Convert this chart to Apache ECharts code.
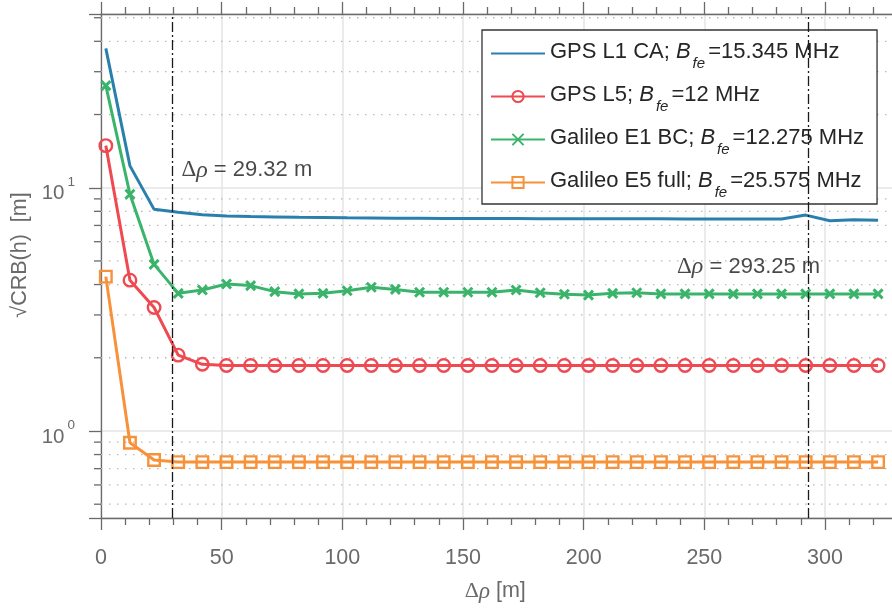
<!DOCTYPE html>
<html>
<head>
<meta charset="utf-8">
<script src="https://cdn.jsdelivr.net/npm/echarts@6/dist/echarts.min.js"></script>
<style>html,body{margin:0;padding:0;background:#fff;}#chart{width:892px;height:608px;}</style>
</head>
<body>
<div id="chart"></div>
<script>
// ---- data ----
const xValues = [2, 12, 22, 32, 42, 52, 62, 72, 82, 92, 102, 112, 122, 132, 142, 152, 162,
  172, 182, 192, 202, 212, 222, 232, 242, 252, 262, 272, 282, 292, 302, 312, 322];
const seriesNames = ['GPS L1 CA', 'GPS L5', 'Galileo E1 BC', 'Galileo E5 full'];
const bandwidths = ['15.345', '12', '12.275', '25.575'];
const gpsL1 = [37.4, 12.3, 8.15, 7.93, 7.75, 7.66, 7.62, 7.59, 7.56, 7.54, 7.52, 7.51, 7.50, 7.49, 7.48, 7.48, 7.47,
  7.47, 7.46, 7.46, 7.46, 7.45, 7.45, 7.45, 7.44, 7.44, 7.44, 7.44, 7.44, 7.72, 7.32, 7.38, 7.35];
const gpsL5 = [14.9, 4.17, 3.22, 2.05, 1.88, 1.86, 1.86, 1.86, 1.86, 1.86, 1.86, 1.86, 1.86, 1.86, 1.86, 1.86, 1.86,
  1.86, 1.86, 1.86, 1.86, 1.86, 1.86, 1.86, 1.86, 1.86, 1.86, 1.86, 1.86, 1.86, 1.86, 1.86, 1.86];
const galE1 = [26.3, 9.40, 4.84, 3.68, 3.80, 4.02, 3.96, 3.74, 3.66, 3.68, 3.77, 3.90, 3.82, 3.72, 3.72, 3.72, 3.72,
  3.80, 3.70, 3.65, 3.62, 3.68, 3.70, 3.66, 3.66, 3.66, 3.66, 3.66, 3.66, 3.66, 3.66, 3.66, 3.66];
const galE5 = [4.31, 0.895, 0.760, 0.745, 0.745, 0.745, 0.745, 0.745, 0.745, 0.745, 0.745, 0.745, 0.745, 0.745, 0.745, 0.745, 0.745,
  0.745, 0.745, 0.745, 0.745, 0.745, 0.745, 0.745, 0.745, 0.745, 0.745, 0.745, 0.745, 0.745, 0.745, 0.745, 0.745];
const xTicksMax = 350;            // axis extent (plot is clipped by the canvas)
const yMin = 0.4388, yMax = 51.8;
const yMinorTicks = [0.5, 0.6, 0.7, 0.8, 0.9, 2, 3, 4, 5, 6, 7, 8, 9, 20, 30, 40, 50];
const markerX = [29.32, 293.25];
const annotX = [33.1, 238.5];
const annotY = [11.8, 4.72];
const annotText = ['29.32', '293.25'];

// ---- style ----
const FONT = 'Liberation Sans';
const AX = '#6a6a6a';
const colors = ['#2a80ad', '#ef4a51', '#3bb46b', '#f7923a'];

function pairs(ys) { return xValues.map((x, i) => [x, ys[i]]); }

const chart = echarts.init(document.getElementById('chart'), null, {renderer: 'canvas'});

const axisLineStyle = {color: AX, width: 1.3};
const option = {
  animation: false,
  backgroundColor: '#fff',
  textStyle: {fontFamily: FONT},
  grid: {left: 101, top: 14, width: 844.66, height: 504, containLabel: false, outerBoundsMode: 'none'},
  xAxis: [{
    type: 'value', min: 0, max: xTicksMax, interval: 50, position: 'bottom',
    axisLine: {show: true, onZero: false, lineStyle: axisLineStyle},
    axisTick: {show: true, inside: false, length: 12, lineStyle: axisLineStyle},
    minorTick: {show: true, splitNumber: 5, length: 7, lineStyle: axisLineStyle},
    axisLabel: {color: AX, fontSize: 21.5, fontFamily: FONT, margin: 29,
      formatter: v => (v > 320 ? '' : String(v))},
    splitLine: {show: true, lineStyle: {color: '#e4e4e4', width: 1.5}},
    name: '{d|Δ}{r|ρ}{t| [m]}', nameLocation: 'middle', nameGap: 62,
    nameTextStyle: {color: AX, padding: [0, 56, 0, 0],
      rich: {d: {fontFamily: 'Liberation Serif', fontSize: 22, color: AX},
             r: {fontFamily: 'Liberation Serif', fontStyle: 'italic', fontSize: 23, color: AX},
             t: {fontFamily: FONT, fontSize: 21.5, color: AX}}}
  }, {
    type: 'value', min: 0, max: xTicksMax, interval: 50, position: 'top',
    axisLine: {show: true, onZero: false, lineStyle: axisLineStyle},
    axisTick: {show: true, inside: false, length: 12, lineStyle: axisLineStyle},
    minorTick: {show: true, splitNumber: 5, length: 7, lineStyle: axisLineStyle},
    axisLabel: {show: false}, splitLine: {show: false}
  }],
  yAxis: {
    type: 'log', logBase: 10, min: yMin, max: yMax,
    axisLine: {show: true, onZero: false, lineStyle: axisLineStyle},
    axisTick: {show: true, inside: false, length: 12, lineStyle: axisLineStyle},
    axisLabel: {
      margin: 26, color: AX,
      formatter: v => {
        const e = Math.log10(v);
        const r = Math.round(e);
        if (Math.abs(e - r) < 1e-6) return '{b|10}{s|' + r + '}';
        return '';
      },
      rich: {b: {fontSize: 20.5, color: AX, fontFamily: FONT, padding: [12, 0, 0, 0]},
             s: {fontSize: 13.5, color: AX, fontFamily: FONT, verticalAlign: 'top', padding: [4, 0, 0, 3]}}
    },
    splitLine: {show: true, lineStyle: {color: '#e4e4e4', width: 1.5}},
    name: '√CRB(h)  [m]', nameLocation: 'middle', nameGap: 66,
    nameTextStyle: {color: AX, fontSize: 21.5, fontFamily: FONT, padding: [0, 0, 0, 22]}
  },
  legend: {
    orient: 'vertical', left: 482, top: 30, padding: [11, 13, 4, 8],
    itemWidth: 54, itemHeight: 14, itemGap: 13,
    backgroundColor: '#fff', borderColor: '#333', borderWidth: 1.3,
    selectedMode: false,
    data: [{name: seriesNames[0], itemStyle: {opacity: 0}}, seriesNames[1], seriesNames[2], seriesNames[3]],
    formatter: name => {
      const bw = bandwidths[seriesNames.indexOf(name)];
      return '{t|' + name + '; }{b|B}{s|fe}{t|=' + bw + ' MHz}';
    },
    textStyle: {
      color: '#262626', fontSize: 22, fontFamily: FONT,
      rich: {t: {fontSize: 22, color: '#262626', fontFamily: FONT, padding: [0, 0, 3, 0]},
             b: {fontSize: 22, color: '#262626', fontFamily: FONT, fontStyle: 'italic', padding: [0, 0, 3, 0]},
             s: {fontSize: 15, color: '#262626', fontFamily: FONT, fontStyle: 'italic', padding: [20, 3, 0, 2]}}
    }
  },
  series: [
    {
      name: 'minorY', type: 'custom', z: 1, silent: true, clip: false,
      data: yMinorTicks.map(v => [0, v]),
      renderItem: (params, api) => {
        const v = api.value(1);
        const a = api.coord([0, v]);
        const b = api.coord([xTicksMax, v]);
        return {type: 'group', children: [
          {type: 'line', shape: {x1: a[0], y1: a[1], x2: b[0], y2: b[1]},
           style: {stroke: '#b8b8b8', lineWidth: 1.3, lineDash: [1.5, 6.5]}},
          {type: 'line', shape: {x1: a[0] - 7, y1: a[1], x2: a[0], y2: a[1]},
           style: {stroke: AX, lineWidth: 1.3}}
        ]};
      }
    },
    {
      name: seriesNames[0], type: 'line', z: 3, data: pairs(gpsL1), symbol: 'none',
      lineStyle: {color: colors[0], width: 3}, itemStyle: {color: colors[0]}
    },
    {
      name: seriesNames[1], type: 'line', z: 3, data: pairs(gpsL5), symbol: 'circle', symbolSize: 12.5,
      showAllSymbol: true,
      lineStyle: {color: colors[1], width: 3},
      itemStyle: {color: 'rgba(255,255,255,0)', borderColor: colors[1], borderWidth: 2.4}
    },
    {
      name: seriesNames[2], type: 'line', z: 3, data: pairs(galE1),
      symbol: 'path://M0,0L10,10M0,10L10,0', symbolSize: 9, showAllSymbol: true,
      lineStyle: {color: colors[2], width: 3},
      itemStyle: {color: 'rgba(255,255,255,0)', borderColor: colors[2], borderWidth: 3}
    },
    {
      name: seriesNames[3], type: 'line', z: 3, data: pairs(galE5), symbol: 'rect', symbolSize: 11.5,
      showAllSymbol: true,
      lineStyle: {color: colors[3], width: 3},
      itemStyle: {color: 'rgba(255,255,255,0)', borderColor: colors[3], borderWidth: 2.4}
    },
    {
      name: 'annot', type: 'scatter', z: 4, silent: true,
      symbolSize: 1, itemStyle: {color: 'rgba(0,0,0,0)'},
      data: annotX.map((x, i) => ({value: [x, annotY[i]], txt: annotText[i]})),
      label: {
        show: true, position: 'right', distance: 0,
        formatter: p => '{d|Δ}{r|ρ}{t| = ' + annotText[p.dataIndex] + ' m}',
        rich: {d: {fontFamily: 'Liberation Serif', fontSize: 23, color: '#1a1a1a'},
               r: {fontFamily: 'Liberation Serif', fontStyle: 'italic', fontSize: 24, color: '#1a1a1a'},
               t: {fontFamily: FONT, fontSize: 22, color: '#1a1a1a'}}
      },
      markLine: {
        silent: true, symbol: ['none', 'none'], animation: false,
        label: {show: false},
        lineStyle: {color: '#1a1a1a', width: 1.3, type: [10, 3, 2, 3]},
        data: markerX.map(x => ({xAxis: x}))
      }
    }
  ]
};
chart.setOption(option);
</script>
</body>
</html>
